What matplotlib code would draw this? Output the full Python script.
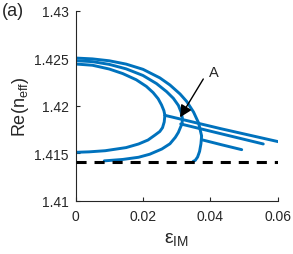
import matplotlib
matplotlib.use("Agg")
import matplotlib.pyplot as plt

plt.rcParams["font.family"] = ["Liberation Sans", "DejaVu Sans"]
plt.rcParams["mathtext.fontset"] = "custom"
plt.rcParams["mathtext.rm"] = "Liberation Sans"
plt.rcParams["mathtext.it"] = "Liberation Sans:italic"

BLUE = "#0072BD"
GREY = "#262626"

# --- branches (eps_IM, Re(n_eff)) ---
# outer mode pair
outer_up_x = [0, 0.005, 0.010, 0.015, 0.020, 0.025, 0.028, 0.031, 0.033, 0.035, 0.0365, 0.0374]
outer_up_y = [1.42504, 1.42495, 1.42475, 1.42440, 1.42385, 1.42295, 1.42220, 1.42125,
              1.42045, 1.41935, 1.41820, 1.41682]
outer_lo_x = [0.0374, 0.0372, 0.0368, 0.0362, 0.0355, 0.0349]
outer_lo_y = [1.41682, 1.4160, 1.4152, 1.4146, 1.41425, 1.41415]

# middle mode pair
mid_up_x = [0, 0.005, 0.010, 0.015, 0.020, 0.024, 0.027, 0.029, 0.0305, 0.0313, 0.0317, 0.0316]
mid_up_y = [1.42476, 1.42466, 1.42437, 1.42390, 1.42320, 1.42235, 1.42150, 1.42080,
            1.42005, 1.41935, 1.41870, 1.41810]
mid_lo_x = [0.0316, 0.0312, 0.0305, 0.0296, 0.0280, 0.0256, 0.0220, 0.0187, 0.0140, 0.0085]
mid_lo_y = [1.4181, 1.4178, 1.4172, 1.41668, 1.4160, 1.41545, 1.41490, 1.41458, 1.41435, 1.41420]

# inner mode pair
in_up_x = [0, 0.005, 0.010, 0.014, 0.018, 0.021, 0.023, 0.0245, 0.0255, 0.0262, 0.0265]
in_up_y = [1.42441, 1.42428, 1.42388, 1.42340, 1.42275, 1.42205, 1.42140, 1.42075,
           1.42010, 1.41950, 1.41900]
in_lo_x = [0.0265, 0.0263, 0.0258, 0.0250, 0.0236, 0.0215, 0.0187, 0.0150, 0.0088, 0.004, 0]
in_lo_y = [1.4190, 1.4183, 1.4177, 1.4173, 1.41693, 1.4164, 1.41598, 1.4156, 1.41527,
           1.41515, 1.4151]

# merged branches beyond the exceptional points
line1_x = [0.0265, 0.0430, 0.0602]
line1_y = [1.4190, 1.41760, 1.41622]
line2_x = [0.0312, 0.0435, 0.0557]
line2_y = [1.41809, 1.41703, 1.41598]
line3_x = [0.0374, 0.0433, 0.0493]
line3_y = [1.41643, 1.41590, 1.41538]

cutoff_x = [0, 0.06]
cutoff_y = [1.4141, 1.4141]

fig = plt.figure(figsize=(2.93, 2.55), dpi=100)
ax = fig.add_axes([0.258, 0.209, 0.690, 0.744])

for xs, ys in [(outer_up_x, outer_up_y), (outer_lo_x, outer_lo_y),
               (mid_up_x, mid_up_y), (mid_lo_x, mid_lo_y),
               (in_up_x, in_up_y), (in_lo_x, in_lo_y),
               (line1_x, line1_y), (line2_x, line2_y), (line3_x, line3_y)]:
    ax.plot(xs, ys, color=BLUE, lw=2.1, solid_capstyle="round")

ax.plot(cutoff_x, cutoff_y, color="black", lw=2.2, dashes=(3.3, 2.6), zorder=3)

ax.annotate("", xy=(0.0310, 1.41879), xytext=(0.0379, 1.42283),
            arrowprops=dict(arrowstyle="-|>", color="black", lw=1.0,
                            mutation_scale=18, shrinkA=0, shrinkB=0))
ax.text(0.0409, 1.42354, "A", fontsize=10.5, ha="center", va="center", color=GREY)

ax.set_xlim(0, 0.06)
ax.set_ylim(1.41, 1.43)
ax.set_xticks([0, 0.02, 0.04, 0.06])
ax.set_xticklabels(["0", "0.02", "0.04", "0.06"])
ax.set_yticks([1.41, 1.415, 1.42, 1.425, 1.43])
ax.set_yticklabels(["1.41", "1.415", "1.42", "1.425", "1.43"])
ax.tick_params(direction="in", length=3, width=0.8, colors=GREY, labelsize=10)
ax.tick_params(axis="x", pad=6)
ax.tick_params(axis="y", pad=5)
for side in ["top", "right"]:
    ax.spines[side].set_visible(False)
for side in ["left", "bottom"]:
    ax.spines[side].set_color(GREY)
    ax.spines[side].set_linewidth(0.8)

ax.set_xlabel(r"ε$_{\mathrm{IM}}$", fontsize=14, color=GREY, labelpad=5)
ax.set_ylabel(r"Re(n$_{\mathrm{eff}}$)", fontsize=13, color=GREY, labelpad=2)
fig.text(0.005, 0.953, "(a)", fontsize=13, color=GREY, va="center")

fig.savefig("out.png", dpi=100)
